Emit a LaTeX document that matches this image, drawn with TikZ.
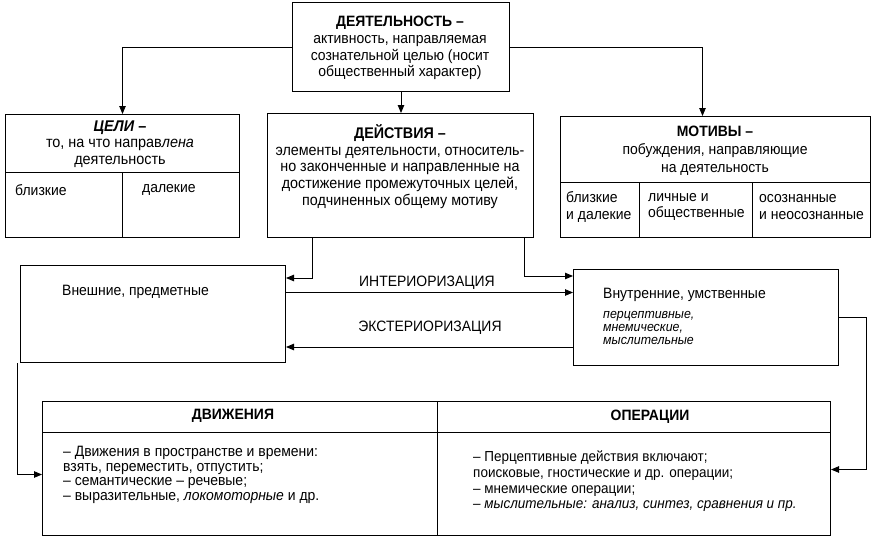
\documentclass[tikz,border=0pt]{standalone}
\usepackage{fontspec}
\setmainfont{Liberation Sans}[FakeStretch=0.93]
\usetikzlibrary{arrows.meta,calc}
\begin{document}
\begin{tikzpicture}[x=1pt,y=-1pt,
  box/.style={draw, line width=1pt, inner sep=0pt, anchor=north west},
  txt/.style={inner sep=0pt, align=center, font=\fontsize{15}{16.7}\selectfont},
  ltxt/.style={inner sep=0pt, align=left, anchor=west, font=\fontsize{15}{16.5}\selectfont},
  arr/.style={line width=0.9pt, -{Triangle[length=8pt,width=6.5pt]}}]
\useasboundingbox (0,0) rectangle (878,544);
% boxes
\node[box, minimum width=217pt, minimum height=89pt] (act) at (292,2) {};
\node[box, minimum width=234pt, minimum height=58pt] (goalsT) at (5,114) {};
\node[box, minimum width=117pt, minimum height=65pt] (goalsA) at (5,172) {};
\node[box, minimum width=117pt, minimum height=65pt] (goalsB) at (122,172) {};
\node[box, minimum width=266pt, minimum height=124pt] (actions) at (267,113) {};
\node[box, minimum width=310pt, minimum height=66pt] (motT) at (560,116) {};
\node[box, minimum width=79pt, minimum height=55pt] (motA) at (560,182) {};
\node[box, minimum width=113pt, minimum height=55pt] (motB) at (639,182) {};
\node[box, minimum width=118pt, minimum height=55pt] (motC) at (752,182) {};
\node[box, minimum width=265pt, minimum height=97pt] (ext) at (20,265) {};
\node[box, minimum width=265pt, minimum height=96pt] (int) at (573,269) {};
\node[box, minimum width=395pt, minimum height=31pt] (movH) at (42,401) {};
\node[box, minimum width=395pt, minimum height=103pt] (movB) at (42,432) {};
\node[box, minimum width=393pt, minimum height=31pt] (opsH) at (437,401) {};
\node[box, minimum width=393pt, minimum height=103pt] (opsB) at (437,432) {};
% texts
\node[txt] (tAct) at (400,48) {\textbf{ДЕЯТЕЛЬНОСТЬ –}\\активность, направляемая\\сознательной целью (носит\\общественный характер)};
\node[txt, font=\fontsize{15.5}{16.5}\selectfont] (tGoals) at (120,144) {\textbf{\textit{ЦЕЛИ} –}\\то, на что направ\textit{лена}\\деятельность};
\node[ltxt] (tGa) at (15,190) {близкие};
\node[ltxt] (tGb) at (142,190) {далекие};
\node[txt, font=\fontsize{15.4}{16.7}\selectfont] (tActions) at (400,166.5) {\textbf{ДЕЙСТВИЯ –}\\элементы деятельности, относитель-\\но законченные и направленные на\\достижение промежуточных целей,\\подчиненных общему мотиву};
\node[txt, font=\fontsize{15}{18}\selectfont] (tMot) at (715,151) {\textbf{МОТИВЫ –}\\побуждения, направляющие\\на деятельность};
\node[ltxt] (tMa) at (566,207) {близкие\\и далекие};
\node[ltxt] (tMb) at (648,207) {личные и\\общественные};
\node[ltxt] (tMc) at (759,207) {осознанные\\и неосознанные};
\node[ltxt] (tExt) at (62,292) {Внешние, предметные};
\node[ltxt] (tInt) at (603,295) {Внутренние, умственные};
\node[inner sep=0pt, align=left, anchor=north west, font=\fontsize{13.3}{13}\selectfont\itshape] (tIntL) at (603,311) {перцептивные,\\мнемические,\\мыслительные};
\node[txt] (tIn) at (427,283) {ИНТЕРИОРИЗАЦИЯ};
\node[txt] (tEx) at (430,328) {ЭКСТЕРИОРИЗАЦИЯ};
\node[txt] (tMov) at (233,416) {\textbf{ДВИЖЕНИЯ}};
\node[txt] (tOps) at (650,417) {\textbf{ОПЕРАЦИИ}};
\node[inner sep=0pt, align=left, anchor=west, font=\fontsize{15}{14.7}\selectfont] (tMovL) at (63,475) {– Движения в пространстве и времени:\\взять, переместить, отпустить;\\– семантические – речевые;\\– выразительные, \textit{локомоторные} и др.};
\node[inner sep=0pt, align=left, anchor=west, font=\fontsize{14.5}{15.6}\selectfont] (tOpsL) at (473,481.5) {– Перцептивные действия включают;\\поисковые, гностические и др. операции;\\– мнемические операции;\\\textit{– мыслительные: анализ, синтез, сравнения и пр.}};
% connectors
\draw[arr] (act.west) -| (goalsT.north);
\draw[arr] (act.east) -| ([xshift=-13pt]motT.north);
\draw[arr] (act.south) -- (act.south |- actions.north);
\draw[arr] ([xshift=45pt]actions.south west) |- ([yshift=-13pt]ext.north east);
\draw[arr] ([xshift=-10pt]actions.south east) |- ([yshift=-7pt]int.north west);
\draw[arr] (ext.east |- 0,292.5) -- (int.west |- 0,292.5);
\draw[arr] (int.west |- 0,347) -- (ext.east |- 0,347);
\draw[arr] (int.east) -- ++(27,0) |- ([yshift=14.5pt]opsB.east);
\draw[arr] ([xshift=-3pt]ext.south west) |- ([yshift=9.5pt]movB.west);
\end{tikzpicture}
\end{document}
